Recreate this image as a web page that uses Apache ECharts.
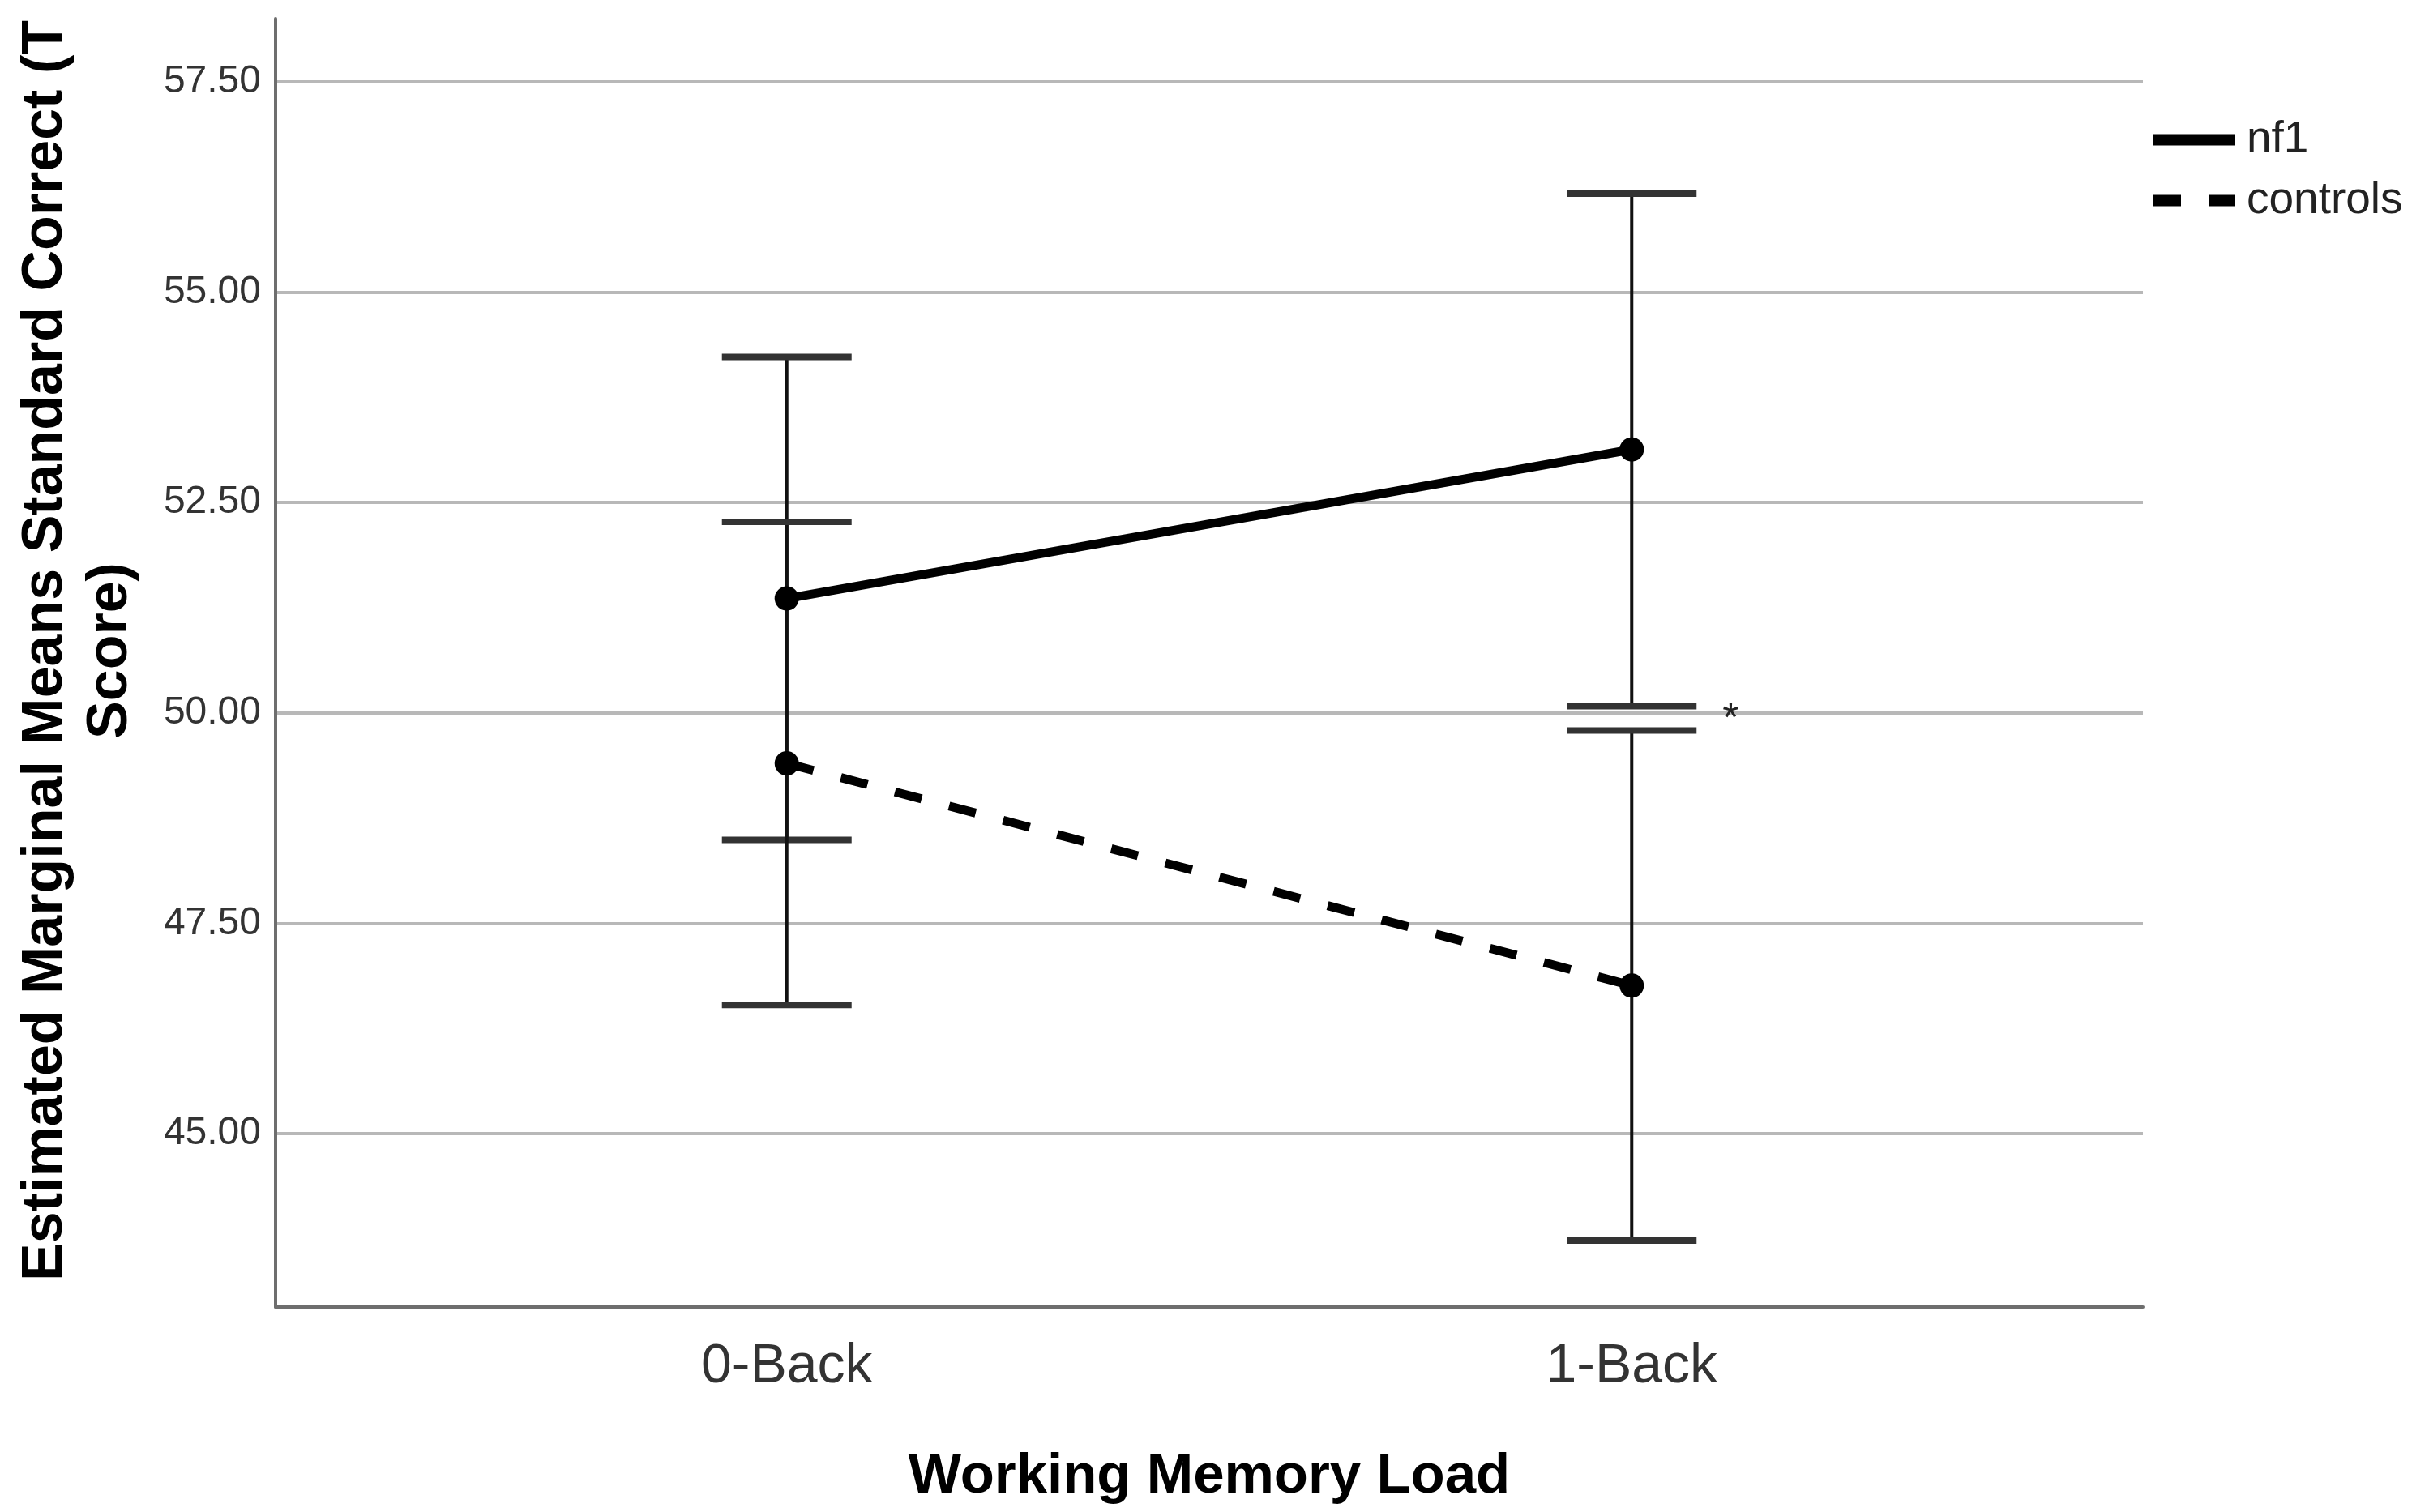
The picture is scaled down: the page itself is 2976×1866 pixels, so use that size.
<!DOCTYPE html>
<html style="height: 100%">
<head>
    <meta charset="utf-8">
</head>
<body style="height: 100%; margin: 0; background: #fff">
<div id="container" style="width: 2976px; height: 1866px"></div>

<script src="https://cdn.jsdelivr.net/npm/echarts@6/dist/echarts.min.js"></script>
<script type="text/javascript">
    // data
    var categories = ['0-Back', '1-Back'];
    var nf1Mean = [51.36, 53.13];
    var nf1Low = [48.49, 50.08];
    var nf1High = [54.23, 56.17];
    var ctrlMean = [49.40, 46.76];
    var ctrlLow = [46.53, 43.73];
    var ctrlHigh = [52.27, 49.79];
    var yTicks = [45, 47.5, 50, 52.5, 55, 57.5];
    var sigIndex = 1; // the '*' next to 1-Back

    var font = 'Liberation Sans, Arial, sans-serif';

    function points(means) {
        return means.map(function (v, i) { return [i, v]; });
    }
    function bars(lows, highs) {
        return lows.map(function (v, i) { return [i, v, highs[i]]; });
    }

    function renderErrorBar(params, api) {
        var x = api.value(0);
        var lo = api.coord([x, api.value(1)]);
        var hi = api.coord([x, api.value(2)]);
        var hw = 80;
        return {
            type: 'group',
            children: [
                {type: 'line', shape: {x1: lo[0], y1: lo[1], x2: hi[0], y2: hi[1]}, style: {stroke: '#111', lineWidth: 4}},
                {type: 'line', shape: {x1: lo[0] - hw, y1: lo[1], x2: lo[0] + hw, y2: lo[1]}, style: {stroke: '#333', lineWidth: 8}},
                {type: 'line', shape: {x1: hi[0] - hw, y1: hi[1], x2: hi[0] + hw, y2: hi[1]}, style: {stroke: '#333', lineWidth: 8}}
            ]
        };
    }

    var dom = document.getElementById('container');
    var myChart = echarts.init(dom, null, {renderer: 'canvas'});

    var option = {
        backgroundColor: '#fff',
        animation: false,
        grid: {
            left: 340,
            right: 332,
            top: 23,
            bottom: 253,
            containLabel: false,
            outerBoundsMode: 'none'
        },
        legend: {
            orient: 'vertical',
            left: 2645,
            top: 140,
            itemWidth: 100,
            itemHeight: 30,
            itemGap: 20,
            data: ['nf1', 'controls'],
            itemStyle: {color: 'rgba(0,0,0,0)', borderWidth: 0, opacity: 0},
            lineStyle: {width: 14},
            textStyle: {fontFamily: font, fontSize: 55, color: '#222', padding: [0, 0, 0, 10]}
        },
        xAxis: {
            type: 'value',
            min: -0.605,
            max: 1.605,
            name: 'Working Memory Load',
            nameLocation: 'middle',
            nameGap: 175,
            nameTextStyle: {fontFamily: font, fontSize: 69, fontWeight: 'bold', color: '#000'},
            axisLine: {show: true, onZero: false, lineStyle: {color: '#6e6e6e', width: 4}},
            axisTick: {show: false, customValues: [0, 1]},
            splitLine: {show: false},
            axisLabel: {
                customValues: [0, 1],
                margin: 40,
                fontFamily: font,
                fontSize: 68,
                color: '#333',
                formatter: function (v) { return categories[Math.round(v)]; }
            }
        },
        yAxis: {
            type: 'value',
            min: 42.94,
            max: 58.25,
            name: 'Estimated Marginal Means Standard Correct (T\nScore)',
            nameLocation: 'middle',
            nameRotate: 90,
            nameGap: 163,
            nameTextStyle: {fontFamily: font, fontSize: 70, fontWeight: 'bold', color: '#000', lineHeight: 80, padding: [0, 0, 0, 30]},
            axisLine: {show: true, onZero: false, lineStyle: {color: '#6e6e6e', width: 4}},
            axisTick: {show: false, customValues: yTicks},
            splitLine: {show: true, lineStyle: {color: '#b8b8b8', width: 4}},
            axisLabel: {
                customValues: yTicks,
                margin: 18,
                fontFamily: font,
                fontSize: 48,
                color: '#333',
                formatter: function (v) { return v.toFixed(2); }
            }
        },
        series: [
            {
                name: 'nf1 error',
                type: 'custom',
                renderItem: renderErrorBar,
                encode: {x: 0, y: [1, 2]},
                data: bars(nf1Low, nf1High),
                z: 1
            },
            {
                name: 'controls error',
                type: 'custom',
                renderItem: renderErrorBar,
                encode: {x: 0, y: [1, 2]},
                data: bars(ctrlLow, ctrlHigh),
                z: 1
            },
            {
                name: 'nf1',
                type: 'line',
                data: points(nf1Mean),
                symbol: 'circle',
                symbolSize: 30,
                itemStyle: {color: '#000'},
                lineStyle: {color: '#000', width: 11},
                z: 3
            },
            {
                name: 'controls',
                type: 'line',
                data: points(ctrlMean),
                symbol: 'circle',
                symbolSize: 30,
                itemStyle: {color: '#000'},
                lineStyle: {color: '#000', width: 11, type: [34, 35]},
                z: 3,
                markPoint: {
                    symbol: 'circle',
                    symbolSize: 1,
                    itemStyle: {color: 'rgba(0,0,0,0)'},
                    label: {
                        show: true,
                        formatter: '*',
                        offset: [122, 2],
                        fontFamily: font,
                        fontSize: 52,
                        color: '#222'
                    },
                    data: [{coord: [sigIndex, (nf1Low[sigIndex] + ctrlHigh[sigIndex]) / 2]}]
                }
            }
        ]
    };

    if (option && typeof option === 'object') {
        myChart.setOption(option);
    }
</script>
</body>
</html>
